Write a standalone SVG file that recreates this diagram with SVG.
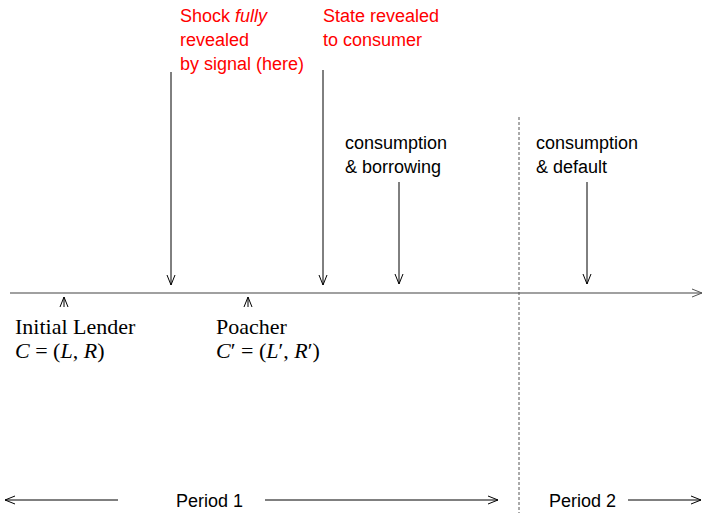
<svg xmlns="http://www.w3.org/2000/svg" width="704" height="513" viewBox="0 0 704 513">
<defs>
<marker id="open" viewBox="0 0 10 10" refX="10" refY="5" markerWidth="10" markerHeight="10" markerUnits="userSpaceOnUse" orient="auto">
<path d="M0,1 L10,5 L0,9" fill="none" stroke="#000" stroke-width="1"/>
</marker>
<marker id="openg" viewBox="0 0 10 10" refX="10" refY="5" markerWidth="10" markerHeight="10" markerUnits="userSpaceOnUse" orient="auto">
<path d="M0,1 L10,5 L0,9" fill="none" stroke="#555" stroke-width="1"/>
</marker>
</defs>
<style>
.s{font-family:"Liberation Sans",Arial,sans-serif;font-size:18px;fill:#000}
.r{fill:#ff0000}
.m{font-family:"Liberation Serif","Times New Roman",serif;font-size:22px;fill:#000}
.a{stroke:#000;stroke-width:1;fill:none}
</style>
<rect width="704" height="513" fill="#fff"/>
<g id="connectors">
<line x1="10" y1="293" x2="702" y2="293" stroke="#808080" stroke-width="1.5" marker-end="url(#openg)"/>
<line x1="519" y1="117" x2="519" y2="513" stroke="#555" stroke-width="1" stroke-dasharray="3,2"/>
<line class="a" x1="171" y1="72" x2="171" y2="285" marker-end="url(#open)"/>
<line class="a" x1="323" y1="70" x2="323" y2="285" marker-end="url(#open)"/>
<line class="a" x1="399" y1="182" x2="399" y2="284" marker-end="url(#open)"/>
<line class="a" x1="587" y1="182" x2="587" y2="284" marker-end="url(#open)"/>
<line class="a" x1="64" y1="307" x2="64" y2="297" marker-end="url(#open)"/>
<line class="a" x1="248" y1="307" x2="248" y2="297" marker-end="url(#open)"/>
<line class="a" x1="118" y1="500" x2="5" y2="500" marker-end="url(#open)"/>
<line class="a" x1="265" y1="500" x2="498" y2="500" marker-end="url(#open)"/>
<line class="a" x1="628" y1="500" x2="701" y2="500" marker-end="url(#open)"/>
</g>
<g id="shock">
<text class="s r" x="180" y="22">Shock <tspan font-style="italic">fully</tspan></text>
<text class="s r" x="180" y="46">revealed</text>
<text class="s r" x="180" y="70">by signal (here)</text>
</g>
<g id="state">
<text class="s r" x="323" y="22">State revealed</text>
<text class="s r" x="323" y="46">to consumer</text>
</g>
<g id="borrowing">
<text class="s" x="345" y="149">consumption</text>
<text class="s" x="345" y="173">&amp; borrowing</text>
</g>
<g id="default">
<text class="s" x="536" y="149">consumption</text>
<text class="s" x="536" y="173">&amp; default</text>
</g>
<g id="lender">
<text class="m" x="15" y="334">Initial Lender</text>
<text class="m" x="15" y="358"><tspan font-style="italic">C</tspan> = (<tspan font-style="italic">L</tspan>, <tspan font-style="italic">R</tspan>)</text>
</g>
<g id="poacher">
<text class="m" x="216" y="334">Poacher</text>
<text class="m" x="216" y="358"><tspan font-style="italic">C</tspan>′ = (<tspan font-style="italic">L</tspan>′, <tspan font-style="italic">R</tspan>′)</text>
</g>
<g id="period1">
<text class="s" x="176" y="507">Period 1</text>
</g>
<g id="period2">
<text class="s" x="549" y="507">Period 2</text>
</g>
</svg>
